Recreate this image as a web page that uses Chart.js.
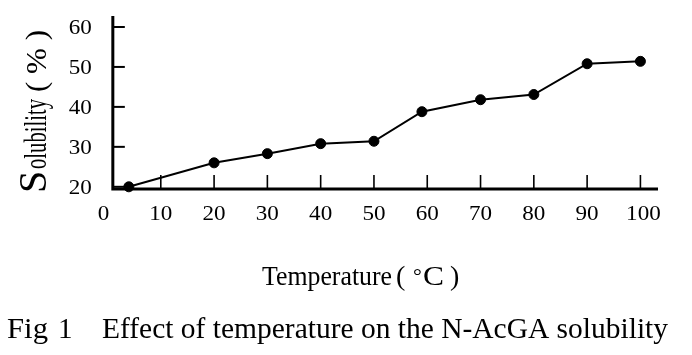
<!DOCTYPE html>
<html><head><meta charset="utf-8">
<script src="https://cdn.jsdelivr.net/npm/chart.js@4/dist/chart.umd.min.js"></script>
<style>html,body{margin:0;padding:0;background:#fff;overflow:hidden}canvas{display:block}</style>
</head><body>
<canvas id="c" width="692" height="355"></canvas>
<script>
// ---- data ----
const temperatures = [4, 20, 30, 40, 50, 59, 70, 80, 90, 100];
const solubility = [20, 26, 28.3, 30.8, 31.4, 38.8, 41.8, 43.1, 50.8, 51.4];
const xTickValues = [0, 10, 20, 30, 40, 50, 60, 70, 80, 90, 100];
const yTickValues = [20, 30, 40, 50, 60];
const xTitleWord = 'Temperature';
const xTitleUnit = ['(', '°', 'C', ')'];
const yTitleInitial = 'S';
const yTitleRest = 'olubility';
const yTitleUnit = '( % )';
const captionLabel = ['Fig', '1'];
const captionText = 'Effect of temperature on the N-AcGA solubility';

const SERIF = '"Liberation Serif","Times New Roman",serif';

function squeezed(ctx, text, x, y, width, font) {
  ctx.font = font;
  const w = ctx.measureText(text).width;
  ctx.save();
  ctx.translate(x, y);
  ctx.scale(width / w, 1);
  ctx.textAlign = 'left';
  ctx.textBaseline = 'alphabetic';
  ctx.fillText(text, 0, 0);
  ctx.restore();
}
function scaledAt(ctx, text, x, y, factor, font, align) {
  ctx.font = font;
  const w = ctx.measureText(text).width * factor;
  let left = x;
  if (align === 'center') left = x - w / 2;
  else if (align === 'right') left = x - w;
  squeezed(ctx, text, left, y, w, font);
}

const axesPlugin = {
  id: 'paperAxes',
  beforeDatasetsDraw(chart) {
    const ctx = chart.ctx;
    const xs = chart.scales.x, ys = chart.scales.y;
    const x0 = xs.getPixelForValue(1.0);
    const yb = ys.getPixelForValue(ys.min);
    const yt = ys.getPixelForValue(ys.max);
    const xr = xs.getPixelForValue(xs.max);
    ctx.save();
    ctx.strokeStyle = '#000';
    ctx.fillStyle = '#000';
    ctx.lineWidth = 3;
    ctx.lineJoin = 'miter';
    ctx.beginPath();
    ctx.moveTo(x0, yt);
    ctx.lineTo(x0, yb);
    ctx.lineTo(xr, yb);
    ctx.stroke();
    const tickFont = '22px ' + SERIF;
    ctx.lineWidth = 2;
    yTickValues.forEach(v => {
      const py = ys.getPixelForValue(v);
      ctx.beginPath();
      ctx.moveTo(x0, py);
      ctx.lineTo(x0 + 12, py);
      ctx.stroke();
      scaledAt(ctx, String(v), x0 - 21, py + 7.5, 1.05, tickFont, 'right');
    });
    ctx.lineWidth = 1.6;
    xTickValues.forEach(v => {
      const px = xs.getPixelForValue(v);
      if (v >= 10) {
        ctx.beginPath();
        ctx.moveTo(px, yb);
        ctx.lineTo(px, yb - 14);
        ctx.stroke();
      }
      scaledAt(ctx, String(v), px - (v === 0 ? 4 : 0) + (v === 100 ? 3 : 0), yb + 31, 1.05, tickFont, 'center');
    });
    // x title
    squeezed(ctx, xTitleWord, 262, 285, 130, '28px ' + SERIF);
    ctx.font = '28px ' + SERIF;
    ctx.textAlign = 'left';
    ctx.fillText(xTitleUnit[0], 396, 285);
    ctx.font = '22px ' + SERIF;
    ctx.fillText(xTitleUnit[1], 413, 283);
    squeezed(ctx, xTitleUnit[2], 423, 285, 21, '28px ' + SERIF);
    ctx.font = '28px ' + SERIF;
    ctx.fillText(xTitleUnit[3], 450, 285);
    // y title (rotated)
    ctx.save();
    ctx.translate(46, 193);
    ctx.rotate(-Math.PI / 2);
    ctx.font = '40px ' + SERIF;
    ctx.textAlign = 'left';
    ctx.fillText(yTitleInitial, 0, 0);
    squeezed(ctx, yTitleRest, 24, 0, 70, '31px ' + SERIF);
    squeezed(ctx, yTitleUnit, 101, 0, 62, '30px ' + SERIF);
    ctx.restore();
    // caption
    squeezed(ctx, captionLabel[0], 7, 338, 41, '29px ' + SERIF);
    ctx.font = '29px ' + SERIF;
    ctx.textAlign = 'left';
    ctx.fillText(captionLabel[1], 58, 338);
    squeezed(ctx, captionText, 102, 338, 566, '29px ' + SERIF);
    ctx.restore();
  }
};

new Chart(document.getElementById('c'), {
  type: 'line',
  data: {
    datasets: [{
      data: temperatures.map((t, i) => ({ x: t, y: solubility[i] })),
      borderColor: '#000',
      backgroundColor: '#000',
      borderWidth: 2,
      pointRadius: 5,
      pointBackgroundColor: '#000',
      pointBorderColor: '#000',
      pointBorderWidth: 1,
      tension: 0,
      clip: false
    }]
  },
  options: {
    responsive: false,
    animation: false,
    devicePixelRatio: 1,
    layout: { padding: { left: 107.5, right: 34, top: 16, bottom: 166 } },
    plugins: { legend: { display: false }, tooltip: { enabled: false }, title: { display: false } },
    scales: {
      x: { type: 'linear', min: 0, max: 103.3, display: false },
      y: { type: 'linear', min: 19.45, max: 62.75, display: false }
    }
  },
  plugins: [axesPlugin]
});
</script>
</body></html>
